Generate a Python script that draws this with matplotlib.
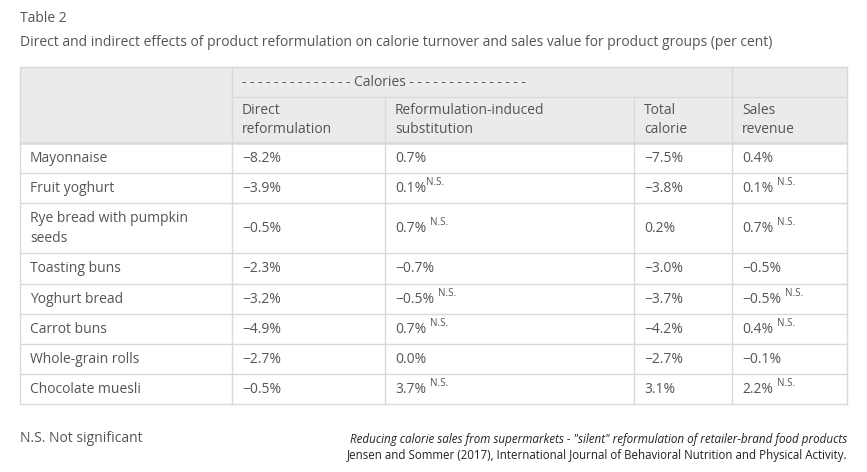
import matplotlib.pyplot as plt
from matplotlib.patches import Rectangle

plt.rcParams['font.family'] = ['Open Sans', 'DejaVu Sans']

# table content
products = ["Mayonnaise", "Fruit yoghurt", "Rye bread with pumpkin\nseeds", "Toasting buns",
            "Yoghurt bread", "Carrot buns", "Whole-grain rolls", "Chocolate muesli"]
direct = ["\u22128.2%", "\u22123.9%", "\u22120.5%", "\u22122.3%", "\u22123.2%", "\u22124.9%", "\u22122.7%", "\u22120.5%"]
substitution = ["0.7%", "0.1%", "0.7%", "\u22120.7%", "\u22120.5%", "0.7%", "0.0%", "3.7%"]
substitution_ns = [None, "", " ", None, " ", " ", None, " "]
total = ["\u22127.5%", "\u22123.8%", "0.2%", "\u22123.0%", "\u22123.7%", "\u22124.2%", "\u22122.7%", "3.1%"]
sales = ["0.4%", "0.1%", "0.7%", "\u22120.5%", "\u22120.5%", "0.4%", "\u22120.1%", "2.2%"]
sales_ns = [None, " ", " ", None, " ", " ", None, " "]
headers = ["Direct\nreformulation", "Reformulation-induced\nsubstitution", "Total\ncalorie", "Sales\nrevenue"]

W, H = 867, 472
fig = plt.figure(figsize=(W / 100, H / 100), dpi=100)
ax = fig.add_axes([0, 0, 1, 1])
ax.set_xlim(0, W)
ax.set_ylim(H, 0)
ax.axis('off')

txt = '#555555'
line = '#d9d9d9'
fs = 10

ax.text(20, 18, "Table 2", fontsize=fs, color=txt, va='center')
ax.text(20, 42, "Direct and indirect effects of product reformulation on calorie turnover and sales value for product groups (per cent)",
        fontsize=fs, color=txt, va='center')

# geometry
cols = [20, 232, 385, 634, 732, 847]
top, cal_bot, head_bot = 67, 97, 143
row_h = [30, 30, 50, 31, 30, 30, 30, 30]
row_edges = [head_bot]
for h in row_h:
    row_edges.append(row_edges[-1] + h)

ax.add_patch(Rectangle((cols[0], top), cols[-1] - cols[0], head_bot - top, facecolor='#ebebeb', edgecolor='none'))

lw = 1.0
for y in [top, head_bot] + row_edges[1:]:
    ax.plot([cols[0], cols[-1]], [y, y], color=line, lw=lw if y != head_bot else 1.8, solid_capstyle='butt')
ax.plot([cols[1], cols[-1]], [cal_bot, cal_bot], color=line, lw=lw)
ax.plot([cols[0], cols[0]], [top, row_edges[-1]], color=line, lw=lw)
ax.plot([cols[-1], cols[-1]], [top, row_edges[-1]], color=line, lw=lw)
ax.plot([cols[1], cols[1]], [top, row_edges[-1]], color=line, lw=lw)
ax.plot([cols[4], cols[4]], [top, row_edges[-1]], color=line, lw=lw)
for x in [cols[2], cols[3]]:
    ax.plot([x, x], [cal_bot, row_edges[-1]], color=line, lw=lw)

pad = 10
ax.text(cols[1] + pad, 82, "- " * 14 + "Calories" + " -" * 15, fontsize=fs, color=txt, va='center')
for i, h in enumerate(headers):
    ax.text(cols[i + 1] + pad, 120, h, fontsize=fs, color=txt, va='center', linespacing=1.45)

fig.canvas.draw()
renderer = fig.canvas.get_renderer()


def cell(x, y, value, ns):
    t = ax.text(x, y, value, fontsize=fs, color=txt, va='center')
    if ns is not None:
        bb = t.get_window_extent(renderer=renderer)
        x_end = ax.transData.inverted().transform((bb.x1, bb.y0))[0]
        gap = 4 if ns == " " else 0
        ax.text(x_end + gap, y - 6, "N.S.", fontsize=7, color=txt, va='center')


for r in range(len(products)):
    yc = (row_edges[r] + row_edges[r + 1]) / 2
    ax.text(cols[0] + pad, yc + 0.5, products[r], fontsize=fs, color=txt, va='center', linespacing=1.4)
    cell(cols[1] + pad, yc + 0.5, direct[r], None)
    cell(cols[2] + pad, yc + 0.5, substitution[r], substitution_ns[r])
    cell(cols[3] + pad, yc + 0.5, total[r], None)
    cell(cols[4] + pad, yc + 0.5, sales[r], sales_ns[r])

ax.text(20, 438, "N.S. Not significant", fontsize=fs, color=txt, va='center')
ax.text(847, 440, "Reducing calorie sales from supermarkets - \"silent\" reformulation of retailer-brand food products",
        fontsize=8.4, color='#222222', style='italic', ha='right', va='center')
ax.text(847, 456, "Jensen and Sommer (2017), International Journal of Behavioral Nutrition and Physical Activity.",
        fontsize=8.3, color='#222222', ha='right', va='center')

fig.savefig("out.png", dpi=100)
